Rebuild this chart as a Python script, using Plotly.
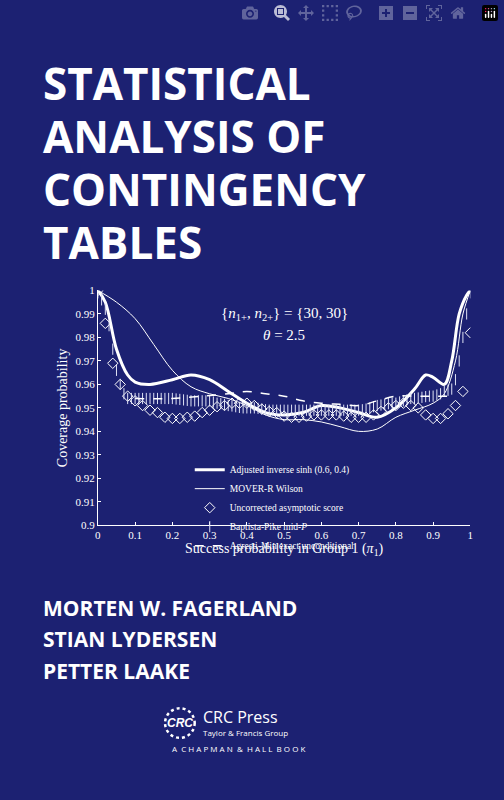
import plotly.graph_objects as go

# Adjusted inverse sinh (0.6, 0.4)
ais_x = [0, 0.02, 0.05, 0.08, 0.1, 0.14, 0.2, 0.25, 0.3, 0.35, 0.4, 0.45, 0.5, 0.55, 0.6, 0.65,
         0.7, 0.75, 0.8, 0.85, 0.88, 0.9, 0.93, 0.95, 0.97, 0.99, 1.0]
ais_y = [1.0, 0.995, 0.975, 0.964, 0.961, 0.960, 0.962, 0.964, 0.962, 0.957, 0.952, 0.948, 0.947,
         0.948, 0.951, 0.950, 0.948, 0.946, 0.950, 0.958, 0.964, 0.963, 0.960, 0.970, 0.990, 0.998, 1.0]

# MOVER-R Wilson
mov_x = [0, 0.05, 0.1, 0.15, 0.2, 0.25, 0.3, 0.35, 0.4, 0.45, 0.5, 0.55, 0.6, 0.65, 0.7, 0.75,
         0.8, 0.85, 0.9, 0.93, 0.96, 0.98, 1.0]
mov_y = [1.0, 0.995, 0.988, 0.977, 0.966, 0.959, 0.956, 0.954, 0.951, 0.947, 0.945, 0.945, 0.944,
         0.942, 0.940, 0.941, 0.946, 0.949, 0.952, 0.956, 0.970, 0.990, 1.0]

# Uncorrected asymptotic score (every 0.02)
uas_x = [i / 50 for i in range(51)]
uas_y = [1.0, 0.986, 0.969, 0.960, 0.955, 0.953, 0.951, 0.949, 0.948, 0.946, 0.9455, 0.9455, 0.946,
         0.9465, 0.948, 0.949, 0.9505, 0.951, 0.952, 0.952, 0.952, 0.951, 0.9495, 0.9485, 0.948,
         0.9465, 0.946, 0.946, 0.9465, 0.947, 0.947, 0.947, 0.947, 0.9465, 0.946, 0.946, 0.946,
         0.947, 0.9485, 0.950, 0.951, 0.952, 0.951, 0.950, 0.947, 0.9455, 0.9455, 0.9475, 0.951,
         0.957, 0.982]

# Baptista-Pike mid-P (every 0.01)
bp_x = [i / 100 for i in range(101)]
bp_y = [0.999, 0.996, 0.992, 0.985, 0.975, 0.966, 0.960, 0.956, 0.954, 0.954,
        0.954, 0.954, 0.954, 0.954, 0.954, 0.954, 0.954, 0.954, 0.954, 0.954,
        0.954, 0.9538, 0.9536, 0.9534, 0.9532, 0.953, 0.953, 0.953, 0.953, 0.953,
        0.953, 0.9525, 0.952, 0.9518, 0.9515, 0.951, 0.9508, 0.9505, 0.9502, 0.950,
        0.950, 0.950, 0.950, 0.9498, 0.9495, 0.9492, 0.949, 0.949, 0.949, 0.949,
        0.949, 0.949, 0.949, 0.949, 0.949, 0.949, 0.949, 0.949, 0.949, 0.949,
        0.949, 0.949, 0.949, 0.949, 0.949, 0.949, 0.949, 0.949, 0.949, 0.949,
        0.949, 0.9492, 0.9495, 0.950, 0.9505, 0.951, 0.9512, 0.9515, 0.9518, 0.952,
        0.952, 0.9525, 0.953, 0.9535, 0.954, 0.954, 0.9542, 0.9545, 0.9548, 0.955,
        0.955, 0.9555, 0.956, 0.957, 0.9575, 0.958, 0.962, 0.970, 0.980, 0.990, 0.999]

# Agresti-Min exact unconditional
am_x = [0.1, 0.2, 0.28, 0.35, 0.4, 0.45, 0.5, 0.55, 0.6, 0.65, 0.7, 0.75, 0.8, 0.85, 0.9, 0.95]
am_y = [0.954, 0.954, 0.955, 0.956, 0.957, 0.956, 0.955, 0.953, 0.952, 0.9515, 0.951, 0.953,
        0.955, 0.955, 0.955, 0.955]

BG = "#1c2172"
SERIF = "Liberation Serif"
W = "white"

fig = go.Figure()
fig.add_trace(go.Scatter(x=ais_x, y=ais_y, mode="lines", name="Adjusted inverse sinh (0.6, 0.4)",
                         line=dict(color=W, width=3, shape="spline")))
fig.add_trace(go.Scatter(x=mov_x, y=mov_y, mode="lines", name="MOVER-R Wilson",
                         line=dict(color=W, width=1, shape="spline")))
fig.add_trace(go.Scatter(x=uas_x, y=uas_y, mode="markers", name="Uncorrected asymptotic score",
                         marker=dict(symbol="diamond-open", size=8, color=W, line=dict(width=1))))
fig.add_trace(go.Scatter(x=bp_x, y=bp_y, mode="markers", name="Baptista-Pike mid-<i>P</i>",
                         marker=dict(symbol="line-ns", size=8, line=dict(color="#dfe2f5", width=1))))
fig.add_trace(go.Scatter(x=am_x, y=am_y, mode="lines", name="Agresti-Min exact unconditional",
                         line=dict(color=W, width=1.5, dash="dash", shape="spline")))

fig.add_hline(y=0.95, line=dict(color="#c8cbe8", width=1, dash="dot"))

ax = dict(showgrid=False, zeroline=False, showline=True, linecolor=W, linewidth=1,
          ticks="inside", tickcolor=W, ticklen=3, tickfont=dict(family=SERIF, size=11, color=W))
fig.update_xaxes(domain=[0.1905, 0.9385], range=[0, 1], tickvals=[i / 10 for i in range(11)],
                 ticktext=["0", "0.1", "0.2", "0.3", "0.4", "0.5", "0.6", "0.7", "0.8", "0.9", "1"],
                 title=dict(text="Success probability in Group 1 (<i>π</i><sub>1</sub>)",
                            font=dict(family=SERIF, size=14, color=W), standoff=2), **ax)
fig.update_yaxes(domain=[0.341, 0.639], range=[0.9, 1.0], tickvals=[0.9 + i / 100 for i in range(11)],
                 ticktext=["0.9"] + [f"0.{90 + i}" for i in range(1, 10)] + ["1"],
                 title=dict(text="Coverage probability", font=dict(family=SERIF, size=14, color=W),
                            standoff=4), **ax)

annos = [
    dict(x=0.5, y=0.99, xref="x", yref="y", text="{<i>n</i><sub>1+</sub>, <i>n</i><sub>2+</sub>} = {30, 30}",
         font=dict(family=SERIF, size=15, color=W), showarrow=False),
    dict(x=0.5, y=0.981, xref="x", yref="y", text="<i>θ</i> = 2.5",
         font=dict(family=SERIF, size=15, color=W), showarrow=False),
]
title_lines = ["STATISTICAL", "ANALYSIS OF", "CONTINGENCY", "TABLES"]
for i, t in enumerate(title_lines):
    annos.append(dict(x=38 / 504, y=1 - (78 + i * 54) / 800, xref="paper", yref="paper", xanchor="left",
                      yanchor="middle", text=f"<b>{t}</b>", font=dict(family="Open Sans", size=44, color=W),
                      showarrow=False))
authors = ["MORTEN W. FAGERLAND", "STIAN LYDERSEN", "PETTER LAAKE"]
for i, t in enumerate(authors):
    annos.append(dict(x=38 / 504, y=1 - (611 + i * 32) / 800, xref="paper", yref="paper", xanchor="left",
                      yanchor="middle", text=f"<b>{t}</b>", font=dict(family="Open Sans", size=21, color=W),
                      showarrow=False))
annos += [
    dict(x=179 / 504, y=1 - 728 / 800, xref="paper", yref="paper", text="<b><i>CRC</i></b>", yanchor="middle",
         font=dict(family="Liberation Sans", size=12, color=W), showarrow=False),
    dict(x=200 / 504, y=1 - 722 / 800, xref="paper", yref="paper", xanchor="left", yanchor="middle",
         text="CRC Press", font=dict(family="Open Sans", size=16, color=W), showarrow=False),
    dict(x=200 / 504, y=1 - 738 / 800, xref="paper", yref="paper", xanchor="left", yanchor="middle",
         text="Taylor &amp; Francis Group", font=dict(family="Open Sans", size=8, color=W), showarrow=False),
    dict(x=238 / 504, y=1 - 754 / 800, xref="paper", yref="paper", yanchor="middle",
         text="A  C H A P M A N  &amp;  H A L L  B O O K", font=dict(family="Open Sans", size=8, color=W),
         showarrow=False),
]

fig.update_layout(
    width=504, height=800, margin=dict(l=0, r=0, t=0, b=0),
    paper_bgcolor=BG, plot_bgcolor=BG, annotations=annos,
    shapes=[dict(type="circle", xref="paper", yref="paper", x0=164 / 504, x1=194 / 504,
                 y0=1 - 743 / 800, y1=1 - 713 / 800, line=dict(color=W, width=2.5))],
    legend=dict(x=0.375, y=0.43, xanchor="left", yanchor="top", bgcolor="rgba(0,0,0,0)",
                font=dict(family=SERIF, size=9.5, color=W), tracegroupgap=0, itemwidth=30),
)

fig.write_html("out.html")
with open("out.html", encoding="utf-8") as f:
    html = f.read()
html = html.replace("<head>", f"<head><style>body{{margin:0;background:{BG};}}</style>", 1)
with open("out.html", "w", encoding="utf-8") as f:
    f.write(html)
